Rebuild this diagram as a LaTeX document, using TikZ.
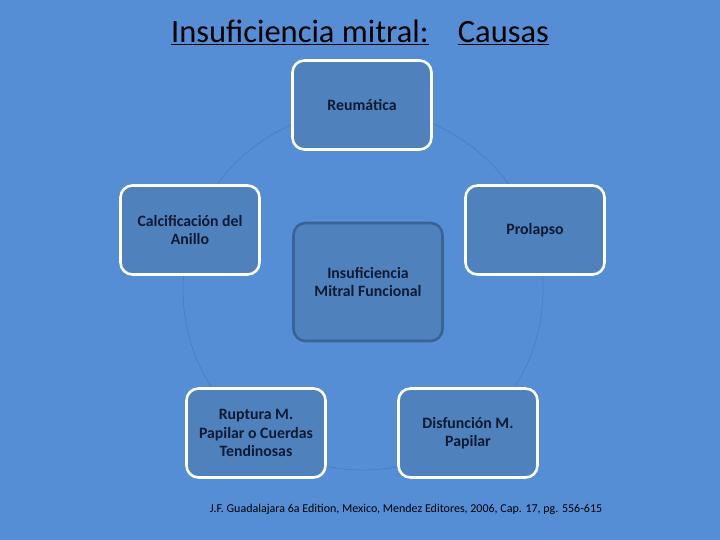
\documentclass[tikz,border=0pt]{standalone}
\usepackage{fontspec}
\setmainfont{Carlito}
\definecolor{bg}{HTML}{558ED5}
\definecolor{boxfill}{HTML}{4F81BD}
\definecolor{ring}{HTML}{4A7CBE}
\definecolor{navy}{HTML}{0E1A33}
\definecolor{centeredge}{HTML}{3A6297}
\tikzset{
  cause/.style={draw=white, line width=2.6pt, fill=boxfill, rounded corners=12pt,
    minimum width=139pt, minimum height=89pt, align=center, text=navy,
    font=\fontsize{15.8}{18.5}\selectfont\bfseries, inner sep=2pt},
  hub/.style={cause, draw=centeredge, minimum width=149pt, minimum height=118pt},
}
\begin{document}
\begin{tikzpicture}[x=1pt,y=-1pt]
\fill[bg] (0,0) rectangle (720,540);
\useasboundingbox (0,0) rectangle (720,540);
\coordinate (c) at (363,290);
\draw[ring, line width=0.6pt] (c) circle[radius=180pt];
\node[font=\fontsize{32.5}{36}\selectfont, text=black] (title) at (360,32)
  {\underline{Insuficiencia mitral:}\hspace{0.9em}\underline{Causas}};
\node[cause] (reu) at (362,105) {Reumática};
\node[cause] (cal) at (190,230) {Calcificación del\\Anillo};
\node[cause] (pro) at (535,230) {Prolapso};
\node[hub] (imf) at (368,282) {Insuficiencia\\Mitral Funcional};
\node[cause] (rup) at (256,433) {Ruptura M.\\Papilar o Cuerdas\\Tendinosas};
\node[cause] (dis) at (468,433) {Disfunción M.\\Papilar};
\node[font=\fontsize{12}{14}\selectfont, text=black] (ref) at (406,509)
  {J.F. Guadalajara 6a Edition, Mexico, Mendez Editores, 2006, Cap. 17, pg. 556-615};
\end{tikzpicture}
\end{document}
